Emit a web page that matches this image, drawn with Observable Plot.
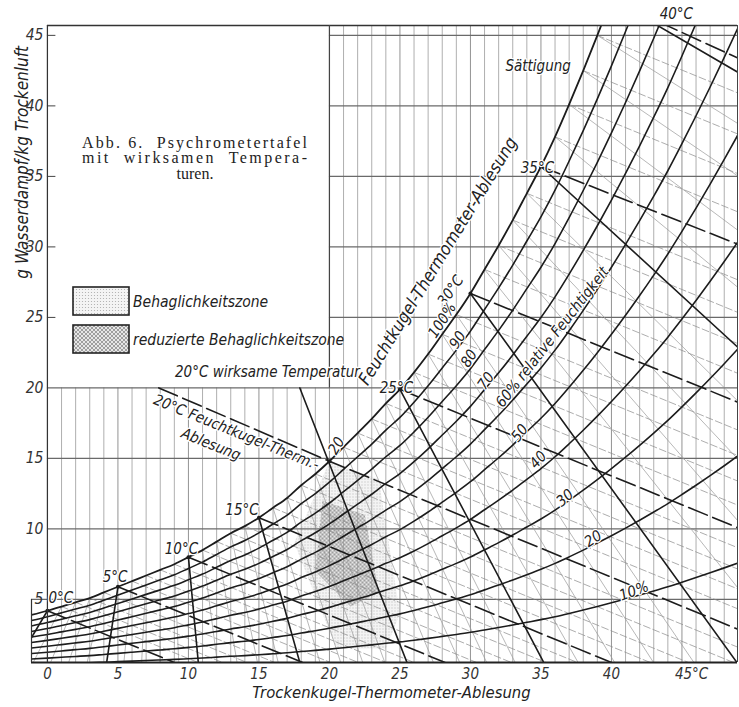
<!DOCTYPE html>
<html>
<head>
<meta charset="utf-8">
<script src="https://cdn.jsdelivr.net/npm/d3@7"></script>
<script src="https://cdn.jsdelivr.net/npm/@observablehq/plot@0.6"></script>
<style>
  body { margin: 0; background: #fff; }
  #chart { width: 739px; height: 707px; }
</style>
</head>
<body>
<div id="chart"></div>
<script>
// Saturation curve (100 % relative humidity): dry-bulb °C -> g water vapour per kg dry air
const satT = [-1.13,0,1,2,3,4,5,6,7,8,9,10,11,12,13,14,15,16,17,18,19,20,21,22,23,24,25,26,27,28,29,30,31,32,33,34,35,36,37,38,39,40,41,42,43,44,45,46,47,48,49];
const satW = [3.9,4.2,4.5,4.8,5.1,5.5,5.9,6.3,6.7,7.1,7.5,8.0,8.5,9.1,9.7,10.2,10.8,11.5,12.2,13.1,13.9,14.8,15.8,16.8,17.8,18.9,19.9,21.1,22.4,23.8,25.2,26.7,28.4,30.1,31.9,33.8,35.7,37.8,40.1,42.5,45.0,47.6,50.3,53.1,56.0,59.0,62.2,65.5,68.9,72.4,76.0];

// Relative humidity curves (per cent of saturation)
const rhLevels = [10, 20, 30, 40, 50, 60, 70, 80, 90];

// Wet-bulb (Feuchtkugel) lines every 5 °C: polylines [t, w]
const wetBulbTemps = [0, 5, 10, 15, 20, 25, 30, 35, 40];
const wetBulbPaths = [
  [[0, 4.2], [9.0, 0.53]],
  [[5, 5.9], [18.1, 0.53]],
  [[10, 8.0], [28.2, 0.53]],
  [[15, 10.8], [40.0, 0.53]],
  [[7.9, 20.0], [20, 14.8], [48.94, 2.9]],
  [[25, 19.9], [48.94, 10.1]],
  [[30, 26.7], [48.94, 19.0]],
  [[35, 35.7], [48.94, 30.2]],
  [[40, 47.5], [48.94, 43.4]]
];
const wetBulbSlope = 0.41; // g/kg drop per °C along a wet-bulb line

// Effective temperature (wirksame Temperatur) lines every 5 °C
const effTemps = [0, 5, 10, 15, 20, 25, 30, 35, 40];
const effPaths = [
  [[0, 4.2], [-1.13, 2.3]],
  [[5, 5.9], [4.2, 0.53]],
  [[10, 8.0], [10.7, 0.53]],
  [[15, 10.8], [17.9, 0.53]],
  [[17.9, 20.0], [25.5, 0.53]],
  [[25, 19.9], [35.2, 0.53]],
  [[30, 26.7], [48.9, 0.53]],
  [[35, 35.7], [48.94, 22.9]],
  [[40, 47.6], [48.94, 42.4]]
];
const effPoints = [[0, 4.2], [5, 5.9], [10, 8.0], [15, 10.8], [20, 14.8], [25, 19.9], [30, 26.7], [35, 35.7]];

// Comfort zones (t, w)
const comfortZone = [[20, 14.8], [23.5, 13.5], [25.0, 4.0], [24.0, 1.5], [20.5, 1.5], [17.5, 9.0]];
const reducedZone = [[19.5, 12.0], [22.5, 11.0], [23.5, 5.5], [21.5, 4.5], [19.0, 7.0]];

// Axis ticks
const xTicks = [0, 5, 10, 15, 20, 25, 30, 35, 40];
const xLastTick = 45;
const yTicks = [5, 10, 15, 20, 25, 30, 35, 40, 45];

// Text on the chart
const curveLabels = [
  {t: 34.8, w: 42.8, text: "Sättigung", rotate: 0, anchor: "middle", size: 15},
  {t: 44.6, w: 46.5, text: "40°C", rotate: 0, anchor: "middle", size: 15},
  {t: 34.75, w: 35.6, text: "35°C", rotate: 0, anchor: "end", size: 15},
  {t: 28.6, w: 26.9, text: "30°C", rotate: -55, anchor: "middle", size: 15},
  {t: 28.0, w: 24.8, text: "100%", rotate: -57, anchor: "middle", size: 15},
  {t: 29.1, w: 23.4, text: "90", rotate: -57, anchor: "middle", size: 15},
  {t: 29.9, w: 22.1, text: "80", rotate: -57, anchor: "middle", size: 15},
  {t: 31.1, w: 20.5, text: "70", rotate: -55, anchor: "middle", size: 15},
  {t: 35.8, w: 23.6, text: "60% relative Feuchtigkeit", rotate: -52, anchor: "middle", size: 15},
  {t: 33.5, w: 16.8, text: "50", rotate: -52, anchor: "middle", size: 15},
  {t: 34.8, w: 14.9, text: "40", rotate: -48, anchor: "middle", size: 15},
  {t: 36.7, w: 12.2, text: "30", rotate: -40, anchor: "middle", size: 15},
  {t: 38.7, w: 9.3, text: "20", rotate: -33, anchor: "middle", size: 15},
  {t: 41.6, w: 5.6, text: "10%", rotate: -20, anchor: "middle", size: 15},
  {t: 27.7, w: 29.0, text: "Feuchtkugel-Thermometer-Ablesung", rotate: -58.5, anchor: "middle", size: 17.5},
  {t: 24.75, w: 20.0, text: "25°C", rotate: 0, anchor: "end", size: 15},
  {t: 15.6, w: 21.1, text: "20°C wirksame Temperatur", rotate: 0, anchor: "middle", size: 15},
  {t: 13.4, w: 16.85, text: "20°C Feuchtkugel-Therm.-", rotate: 22, anchor: "middle", size: 15},
  {t: 11.6, w: 16.0, text: "Ablesung", rotate: 22, anchor: "middle", size: 15},
  {t: 20.5, w: 15.9, text: "20", rotate: -60, anchor: "middle", size: 15},
  {t: 13.8, w: 11.3, text: "15°C", rotate: 0, anchor: "middle", size: 15},
  {t: 9.5, w: 8.6, text: "10°C", rotate: 0, anchor: "middle", size: 15},
  {t: 4.8, w: 6.6, text: "5°C", rotate: 0, anchor: "middle", size: 15},
  {t: 0.95, w: 5.1, text: "0°C", rotate: 0, anchor: "middle", size: 15}
];

const legendItems = ["Behaglichkeitszone", "reduzierte Behaglichkeitszone"];
const captionLines = ["Abb. 6.  Psychrometertafel", "mit  wirksamen  Tempera-", "turen."];

// ---------- derived tables ----------
const tMin = -1.13, tMax = 48.94, wMin = 0.53, wMax = 45.7;
const satAt = t => satW[satT.indexOf(t)];

const satPts = satT.map((t, i) => ({t, w: satW[i]}));
const rhPts = rhLevels.flatMap(rh => satT.map((t, i) => ({rh, t, w: satW[i] * rh / 100})));

const toRows = (paths, keys) => paths.flatMap((p, i) => p.map(([t, w]) => ({k: keys[i], t, w})));
const wetRows = toRows(wetBulbPaths, wetBulbTemps);
const effRows = toRows(effPaths, effTemps);

// 1-degree wet-bulb subdivisions, starting on the saturation curve
const thinWet = [];
for (let tw = 1; tw <= 48; tw++) {
  if (tw % 5 === 0) continue;
  const w0 = satAt(tw);
  thinWet.push({k: tw, t: tw, w: w0}, {k: tw, t: tw + 60, w: w0 - wetBulbSlope * 60});
}
// 1-degree effective-temperature subdivisions: direction taken between neighbouring 5-degree lines
const effDir = effPaths.map(p => {
  const a = p[0], b = p[p.length - 1];
  return (b[0] - a[0]) / (a[1] - b[1]);
});
const thinEff = [];
for (let e = 1; e < 40; e++) {
  if (e % 5 === 0) continue;
  const i = Math.floor(e / 5), f = (e % 5) / 5;
  const k = effDir[i] * (1 - f) + effDir[i + 1] * f;
  const w0 = satAt(e);
  thinEff.push({k: e, t: e, w: w0}, {k: e, t: e + k * w0, w: 0});
}

// grid
const vGrid = d3.range(0, 49).map(t => ({t, y2: (t > 0 && t < 20) ? 20 : wMax}));
const hGrid = yTicks.map(w => ({w, x1: w === 5 ? tMin : (w <= 20 ? 0 : 20)}));

const sans = "'Liberation Sans Narrow', 'DejaVu Sans Condensed', 'Roboto Condensed', sans-serif";
const ink = "#1c1c1c";

const plot = Plot.plot({
  width: 739,
  height: 707,
  marginLeft: 31,
  marginRight: 2,
  marginTop: 25,
  marginBottom: 45,
  x: {domain: [tMin, tMax], axis: null},
  y: {domain: [wMin, wMax], axis: null},
  style: {fontFamily: sans, background: "#fff"},
  marks: [
    // comfort zones
    Plot.line(comfortZone, {x: d => d[0], y: d => d[1], fill: "url(#stipple)", stroke: "none"}),
    Plot.line(reducedZone, {x: d => d[0], y: d => d[1], fill: "url(#crosshatch)", stroke: "none"}),
    // grid
    Plot.ruleX(vGrid, {x: "t", y1: wMin, y2: "y2", stroke: d => d.t % 5 === 0 ? "#777" : "#9a9a9a", strokeWidth: 0.8}),
    Plot.ruleY(hGrid, {y: "w", x1: "x1", x2: tMax, stroke: "#6a6a6a", strokeWidth: 1.2}),
    Plot.ruleY(yTicks.filter(w => w > 20), {y: d => d, x1: 0, x2: 0.6, stroke: "#444", strokeWidth: 1}),
    // thin subdivisions
    Plot.line(thinWet, {x: "t", y: "w", z: "k", stroke: "#8a8a8a", strokeWidth: 0.7, strokeDasharray: "7,3", clip: true}),
    Plot.line(thinEff, {x: "t", y: "w", z: "k", stroke: "#9a9a9a", strokeWidth: 0.7, clip: true}),
    // relative humidity and saturation
    Plot.line(rhPts, {x: "t", y: "w", z: "rh", curve: "monotone-x", stroke: ink, strokeWidth: 1.6, clip: true}),
    Plot.line(satPts, {x: "t", y: "w", curve: "monotone-x", stroke: ink, strokeWidth: 1.8, clip: true}),
    // wet-bulb and effective temperature lines
    Plot.line(wetRows, {x: "t", y: "w", z: "k", stroke: ink, strokeWidth: 1.6, strokeDasharray: "20,6", clip: true}),
    Plot.line(effRows, {x: "t", y: "w", z: "k", stroke: ink, strokeWidth: 1.6, clip: true}),
    Plot.dot(effPoints, {x: d => d[0], y: d => d[1], r: 2, fill: ink}),
    // frame
    Plot.ruleY([wMax], {x1: 0, x2: tMax, stroke: "#333", strokeWidth: 1.3}),
    Plot.ruleY([wMin], {x1: tMin, x2: tMax, stroke: "#222", strokeWidth: 2}),
    Plot.ruleX([tMax], {y1: wMin, y2: wMax, stroke: "#444", strokeWidth: 1}),
    Plot.ruleX([0], {y1: wMin, y2: wMax, stroke: "#333", strokeWidth: 1.2}),
    Plot.ruleX([20], {y1: 20, y2: wMax, stroke: "#444", strokeWidth: 1.2}),
    Plot.ruleX([tMin], {y1: wMin, y2: 5, stroke: "#333", strokeWidth: 1.2}),
    // axis labels
    Plot.text(xTicks, {x: d => d, text: d => String(d), frameAnchor: "bottom", lineAnchor: "middle", textAnchor: "middle", dy: 12, fontSize: 15, fontStyle: "italic", fill: "#333"}),
    Plot.text([xLastTick], {x: d => d, text: d => d + "°C", frameAnchor: "bottom", lineAnchor: "middle", textAnchor: "start", dx: -7, dy: 12, fontSize: 15, fontStyle: "italic", fill: "#333"}),
    Plot.text(yTicks, {x: 0, y: d => d, text: d => String(d), textAnchor: "end", lineAnchor: "middle", dx: -4, fontSize: 15.5, fontStyle: "italic", fill: "#333"}),
    Plot.text(["Trockenkugel-Thermometer-Ablesung"], {x: 24.4, frameAnchor: "bottom", lineAnchor: "middle", textAnchor: "middle", dy: 30, fontSize: 16.5, fontStyle: "italic", fill: "#222"}),
    Plot.text(["g Wasserdampf/kg Trockenluft"], {frameAnchor: "left", y: 36.0, dx: -9, rotate: -90, textAnchor: "middle", lineAnchor: "middle", fontSize: 17, fontStyle: "italic", fill: "#222"}),
    // curve labels
    Plot.text(curveLabels, {x: "t", y: "w", text: "text", rotate: "rotate", textAnchor: "anchor", fontSize: "size", fontStyle: "italic", fill: "#222", stroke: "white", strokeWidth: 2.5, paintOrder: "stroke"})
  ]
});

const svg = d3.select(plot);
const defs = svg.insert("defs", ":first-child");
const stip = defs.append("pattern").attr("id", "stipple").attr("patternUnits", "userSpaceOnUse").attr("width", 3).attr("height", 3);
stip.append("rect").attr("width", 3).attr("height", 3).attr("fill", "#f4f4f4");
stip.append("circle").attr("cx", 1.5).attr("cy", 1.5).attr("r", 0.6).attr("fill", "#aaa");
const hatch = defs.append("pattern").attr("id", "crosshatch").attr("patternUnits", "userSpaceOnUse").attr("width", 4).attr("height", 4);
hatch.append("rect").attr("width", 4).attr("height", 4).attr("fill", "#e6e6e6");
hatch.append("path").attr("d", "M0,0L4,4M4,0L0,4").attr("stroke", "#8c8c8c").attr("stroke-width", 0.8);

// legend inside the empty upper-left panel
const lg = svg.append("g").attr("font-family", sans).attr("font-style", "italic").attr("font-size", 15.5).attr("fill", "#222").attr("text-anchor", "start");
legendItems.forEach((label, i) => {
  const y0 = 287 + i * 38;
  lg.append("rect").attr("x", 73).attr("y", y0).attr("width", 56).attr("height", 28)
    .attr("fill", i === 0 ? "url(#stipple)" : "url(#crosshatch)").attr("stroke", "#222").attr("stroke-width", 1.6);
  lg.append("text").attr("x", 133).attr("y", y0 + 20).text(label);
});

// caption block
const cap = svg.append("g").attr("font-family", "'Liberation Serif', 'DejaVu Serif', serif").attr("font-size", 16).attr("fill", "#222").attr("text-anchor", "start");
cap.append("text").attr("x", 82).attr("y", 147.5).attr("textLength", 225).attr("lengthAdjust", "spacing").text(captionLines[0]);
cap.append("text").attr("x", 82).attr("y", 163).attr("textLength", 225).attr("lengthAdjust", "spacing").text(captionLines[1]);
cap.append("text").attr("x", 195).attr("y", 178.5).attr("text-anchor", "middle").text(captionLines[2]);

document.getElementById("chart").append(plot);
</script>
</body>
</html>
